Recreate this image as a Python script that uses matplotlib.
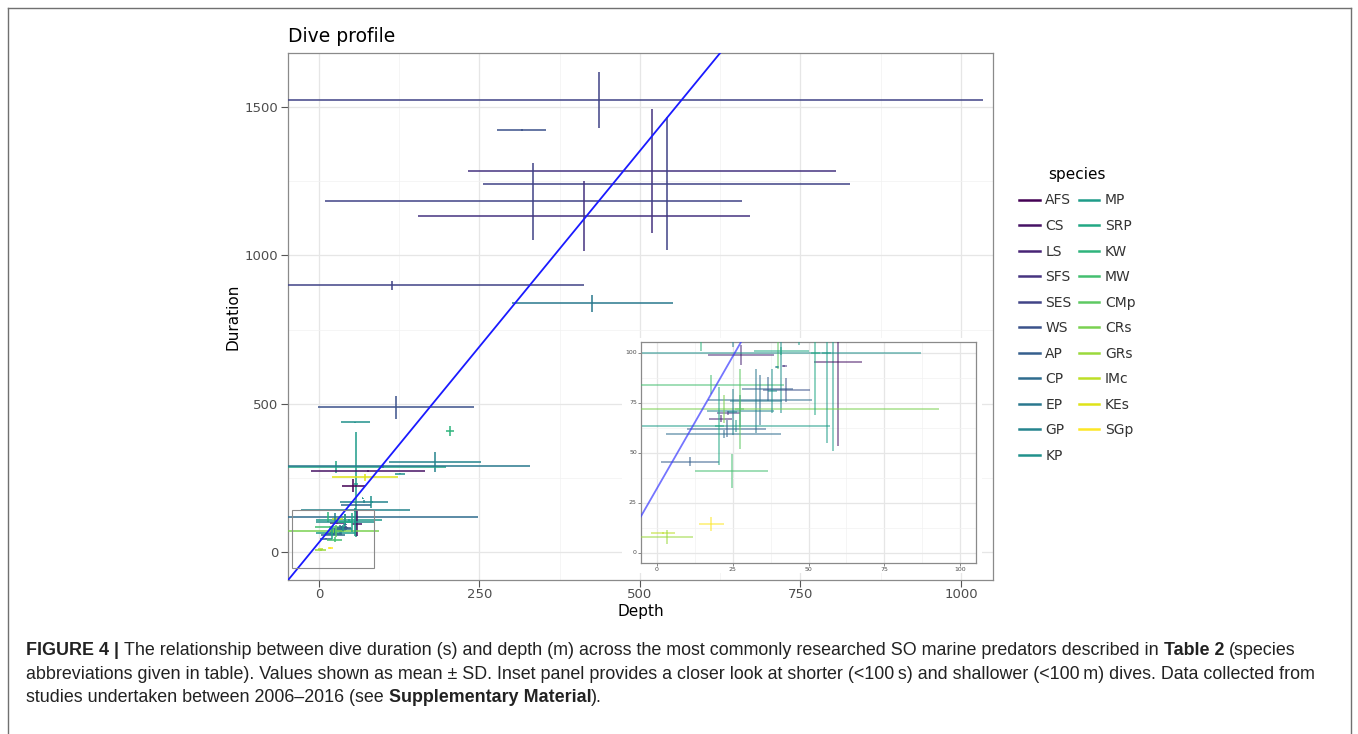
import matplotlib
matplotlib.use("Agg")
import matplotlib.pyplot as plt
import numpy as np
from matplotlib.lines import Line2D
from matplotlib.patches import Rectangle

species = ["AFS", "CS", "LS", "SFS", "SES", "WS", "AP", "CP", "EP", "GP", "KP",
           "MP", "SRP", "KW", "MW", "CMp", "CRs", "GRs", "IMc", "KEs", "SGp"]

# one row per study: species, mean depth (m), SD depth, mean duration (s), SD duration
study_sp = ["SES", "WS", "SFS", "SES", "SES", "SFS", "SES", "EP", "WS", "KP",
            "KW", "MP", "GP", "SRP", "EP", "CS", "KEs", "KP", "AFS", "KP",
            "GP", "KP", "GP", "CP", "MP", "CP", "IMc", "CMp", "KW", "GP",
            "LS", "CS", "GP", "SFS", "MW", "KP", "SRP", "AP", "WS", "CP",
            "EP", "GP", "SFS", "LS", "MP", "AP", "CP", "AP", "MW", "SGp",
            "IMc", "GRs", "CRs", "SRP", "GP", "CMp", "KP", "SRP", "MP"]
depth = [436, 316, 519, 542, 334, 413, 114, 426, 120, 57,
         204, 58, 181, 26.5, 100, 77, 72, 126, 54, 68.5,
         70, 82, 57, 60, 47, 58, 29, 40, 14.5, 25,
         27.7, 59.7, 39.6, 42, 18, 41, 41, 36.5, 42.7, 34,
         32.6, 27.5, 23.6, 21, 26, 23, 22, 11, 24.7, 18,
         2, 3.3, 22, 20.5, 25, 27.3, 38, 52.2, 56]
depth_sd = [598, 38, 287, 286, 325, 258, 299, 125, 121, 22,
            6, 3, 71, 171, 229, 89, 51, 8, 18, 1,
            37, 3, 85, 188, 51, 24, 9, 1.5, 1, 1,
            11, 7.8, 0.8, 0.8, 24, 46, 9, 8.5, 7.7, 17,
            8.5, 11, 3.9, 3.8, 31, 13, 19, 9.5, 12, 4.2,
            4, 8.5, 71, 1.5, 1.5, 1.5, 1.5, 1.5, 1.5]
duration = [1523, 1422, 1284, 1242, 1182, 1134, 899, 839, 488, 437,
            408, 228, 304, 287, 289, 274, 252, 264, 223, 181,
            170, 168, 142, 118, 108, 158, 111, 110, 118, 118,
            99, 95.5, 93, 93.5, 84, 100, 101, 82, 81.5, 76.5,
            76, 70.7, 70, 67, 63.2, 62, 59.2, 45.4, 41, 14.3,
            10, 8, 72, 63.5, 70.3, 72, 81, 100, 100]
duration_sd = [95, 4, 208, 225, 130, 118, 15, 29, 38, 3,
               16, 177, 33, 19, 5, 4, 12, 2, 22, 1,
               5, 21, 6, 4, 4, 3, 3, 18, 17, 15,
               5, 42, 0.5, 0.5, 4.6, 30, 2, 6, 6, 12.5,
               16, 8, 1, 1.8, 3, 4.3, 2, 2.2, 8.5, 3.7,
               0.5, 3.5, 7, 19.5, 11.7, 20, 11, 31, 45]

# fitted line duration = slope * depth + intercept
fit_slope = 2.64
fit_intercept = 32

W, H = 1358, 734
fig = plt.figure(figsize=(W / 100, H / 100), dpi=100)
fig.patch.set_facecolor("white")

cmap = plt.get_cmap("viridis")
colours = {s: cmap(i / (len(species) - 1)) for i, s in enumerate(species)}


def fx(px):
    return px / W


def fy(py):
    return 1 - py / H


def style_panel(ax, tick_size, major, minor):
    ax.set_facecolor("white")
    ax.set_xticks(major[0])
    ax.set_yticks(major[1])
    ax.set_xticks(minor[0], minor=True)
    ax.set_yticks(minor[1], minor=True)
    ax.grid(True, which="major", color="#e6e6e6", lw=0.9, zorder=0)
    ax.grid(True, which="minor", color="#f2f2f2", lw=0.5, zorder=0)
    ax.set_axisbelow(True)
    ax.tick_params(which="minor", length=0)
    ax.tick_params(which="major", length=5, width=0.8, color="#555555",
                   labelsize=tick_size, labelcolor="#4d4d4d", pad=2)
    for s in ax.spines.values():
        s.set_color("#8a8a8a")
        s.set_linewidth(0.9)


def draw_bars(ax, alpha, lw):
    for sp, x, xs, y, ys in zip(study_sp, depth, depth_sd, duration, duration_sd):
        c = colours[sp]
        ax.hlines(y, x - xs, x + xs, color=c, lw=lw, alpha=alpha, zorder=3)
        ax.vlines(x, y - ys, y + ys, color=c, lw=lw, alpha=alpha, zorder=3)


# main panel
ax = fig.add_axes([fx(288), fy(580), fx(993) - fx(288), fy(53) - fy(580)])
style_panel(ax, 9.5,
            ([0, 250, 500, 750, 1000], [0, 500, 1000, 1500]),
            ([125, 375, 625, 875], [250, 750, 1250]))
ax.tick_params(axis="x", pad=1)
ax.set_xlim(-48, 1050)
ax.set_ylim(-94, 1682)
draw_bars(ax, 0.85, 1.3)
xs_line = np.array([-100, 1100])
ax.plot(xs_line, fit_slope * xs_line + fit_intercept, color="#1a1aff", lw=1.3, zorder=4)
ax.add_patch(Rectangle((-42, -55), 128, 197, fill=False, ec="#8a8a8a", lw=0.8, zorder=5))
ax.set_xlabel("Depth", fontsize=11, labelpad=2)
ax.set_ylabel("Duration", fontsize=11, labelpad=3)
ax.set_title("Dive profile", loc="left", fontsize=13.5, pad=8)

# inset panel
fig.patches.append(Rectangle((fx(622), fy(573)), fx(982) - fx(622), fy(338) - fy(573),
                             transform=fig.transFigure, fc="white", ec="none", zorder=2))
ins = fig.add_axes([fx(641), fy(563), fx(976) - fx(641), fy(342) - fy(563)], zorder=3)
style_panel(ins, 4.5,
            ([0, 25, 50, 75, 100], [0, 25, 50, 75, 100]),
            ([12.5, 37.5, 62.5, 87.5], [12.5, 37.5, 62.5, 87.5]))
ins.tick_params(which="major", length=2, width=0.5, pad=1)
ins.set_xlim(-5.25, 105.25)
ins.set_ylim(-5.25, 105.25)
draw_bars(ins, 0.65, 1.1)
ins.plot(xs_line, fit_slope * xs_line + fit_intercept, color="#3a3aff", alpha=0.7, lw=1.3, zorder=4)

# legend
handles = [Line2D([0], [0], color=colours[s], lw=1.8) for s in species]
fig.legend(handles, species, title="species", loc="upper left",
           bbox_to_anchor=(fx(1012), fy(160)), ncol=2, frameon=False,
           fontsize=10, title_fontsize=11, handlelength=1.5, handletextpad=0.4,
           columnspacing=0.5, labelspacing=0.83, borderpad=0,
           labelcolor="#333333")

# outer frame of the figure panel
for xa, ya in [([7.5, 7.5], [734, 8]), ([7.5, 1351], [8, 8]), ([1351, 1351], [8, 734])]:
    fig.add_artist(Line2D([fx(v) for v in xa], [fy(v) for v in ya], color="#707070", lw=1.0))

# caption with bold runs
renderer = fig.canvas.get_renderer()
cap_font = ["Liberation Sans", "DejaVu Sans"]
cap_size = 12.9


def text_width(s, weight):
    t = fig.text(0, 0, s, fontsize=cap_size, fontweight=weight, family=cap_font)
    w = t.get_window_extent(renderer).width
    t.remove()
    return w


space_w = text_width("a a", "normal") - text_width("aa", "normal")


def rich_line(px, py, parts):
    for txt, bold in parts:
        lead = len(txt) - len(txt.lstrip(" "))
        trail = len(txt) - len(txt.rstrip(" "))
        px += lead * space_w
        core = txt.strip(" ")
        weight = "bold" if bold else "normal"
        t = fig.text(fx(px), fy(py), core, fontsize=cap_size, fontweight=weight,
                     family=cap_font, va="baseline", color="#222222")
        px += t.get_window_extent(renderer).width + trail * space_w


rich_line(26, 655, [("FIGURE 4 |", True),
                    (" The relationship between dive duration (s) and depth (m) across the most "
                     "commonly researched SO marine predators described in ", False),
                    ("Table 2", True), (" (species", False)])
rich_line(26, 679, [("abbreviations given in table). Values shown as mean \u00b1 SD. Inset panel provides "
                     "a closer look at shorter (<100\u2009s) and shallower (<100\u2009m) dives. "
                     "Data collected from", False)])
rich_line(26, 702, [("studies undertaken between 2006\u20132016 (see ", False),
                    ("Supplementary Material", True), (").", False)])

fig.savefig("out.png", dpi=100)
